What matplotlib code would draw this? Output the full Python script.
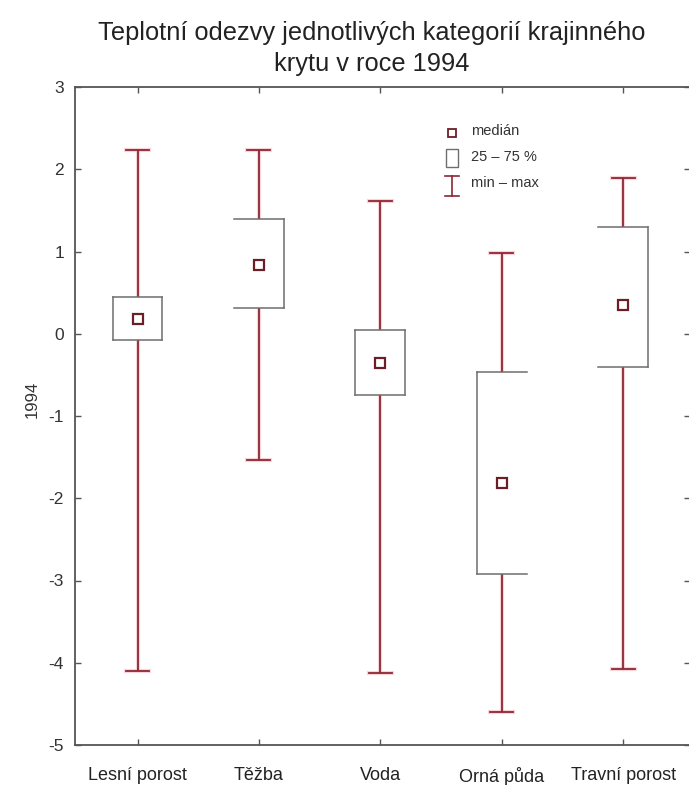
import matplotlib.pyplot as plt
from matplotlib.patches import Rectangle

plt.rcParams['font.family'] = ['Liberation Sans', 'DejaVu Sans']

# Data
categories = ['Lesní porost', 'Těžba', 'Voda', 'Orná půda', 'Travní porost']
mins = [-4.10, -1.54, -4.12, -4.60, -4.08]
q1 = [-0.08, 0.31, -0.75, -2.92, -0.41]
medians = [0.18, 0.84, -0.35, -1.81, 0.35]
q3 = [0.45, 1.39, 0.05, -0.47, 1.30]
maxs = [2.24, 2.24, 1.62, 0.98, 1.89]

# which vertical sides of each box survived in the original scan
box_sides = [('l', 'r'), ('r',), ('l', 'r'), ('l',), ('r',)]

whisker_col = '#8e2635'
box_col = '#6e6e6e'
axis_col = '#555555'

fig = plt.figure(figsize=(6.89, 7.85), dpi=100)
ax = fig.add_axes([75 / 689, 40 / 785, 615 / 689, 658 / 785])

bw = 0.41   # box width
cw = 0.19   # cap width

for i in range(len(categories)):
    # whisker with halo
    for lw, col, a in [(3.0, '#f2b8c0', 0.6), (1.3, whisker_col, 1.0)]:
        ax.plot([i, i], [mins[i], maxs[i]], color=col, lw=lw, alpha=a, zorder=2,
                solid_capstyle='butt')
        ax.plot([i - cw / 2, i + cw / 2], [mins[i], mins[i]], color=col, lw=lw, alpha=a, zorder=2)
        ax.plot([i - cw / 2, i + cw / 2], [maxs[i], maxs[i]], color=col, lw=lw, alpha=a, zorder=2)
    # box (white fill, grey outline)
    ax.add_patch(Rectangle((i - bw / 2, q1[i]), bw, q3[i] - q1[i], facecolor='white',
                           edgecolor='none', zorder=3))
    ax.plot([i - bw / 2, i + bw / 2], [q3[i], q3[i]], color=box_col, lw=1.1, zorder=4)
    ax.plot([i - bw / 2, i + bw / 2], [q1[i], q1[i]], color=box_col, lw=1.1, zorder=4)
    if 'l' in box_sides[i]:
        ax.plot([i - bw / 2, i - bw / 2], [q1[i], q3[i]], color=box_col, lw=1.1, zorder=4)
    if 'r' in box_sides[i]:
        ax.plot([i + bw / 2, i + bw / 2], [q1[i], q3[i]], color=box_col, lw=1.1, zorder=4)

# median markers
ax.plot(range(len(categories)), medians, linestyle='none', marker='s', markersize=7,
        markerfacecolor='white', markeredgecolor='#6b1e25', markeredgewidth=1.6, zorder=5)

ax.set_xlim(-0.515, 4.55)
ax.set_ylim(-5, 3)
ax.set_xticks(range(len(categories)))
ax.set_xticklabels(categories, fontsize=13, color='#222222')
ax.set_yticks(range(-5, 4))
ax.set_yticklabels([str(v) for v in range(-5, 4)], fontsize=12.5, color='#333333')
ax.tick_params(axis='both', direction='in', length=4, color=axis_col, width=1.0,
               top=True, right=True)
ax.tick_params(axis='x', pad=16)
ax.tick_params(axis='y', pad=8)
for s in ax.spines.values():
    s.set_color(axis_col)
    s.set_linewidth(1.3)

ax.set_ylabel('1994', fontsize=12, color='#333333')
ax.yaxis.set_label_coords(-0.058, 0.525)

fig.text(0.54, 0.958, 'Teplotní odezvy jednotlivých kategorií krajinného',
         ha='center', va='center', fontsize=18.3, color='#222222')
fig.text(0.54, 0.919, 'krytu v roce 1994', ha='center', va='center',
         fontsize=18.3, color='#222222')

# legend drawn by hand
lx = 2.59
ax.plot([lx], [2.44], marker='s', markersize=6, linestyle='none',
        markerfacecolor='white', markeredgecolor='#6b1e25', markeredgewidth=1.3, zorder=5)
ax.add_patch(Rectangle((lx - 0.05, 2.03), 0.10, 0.22, facecolor='white',
                       edgecolor=box_col, lw=1.0, zorder=5))
ax.plot([lx, lx], [1.68, 1.92], color=whisker_col, lw=1.2)
ax.plot([lx - 0.06, lx + 0.06], [1.68, 1.68], color=whisker_col, lw=1.2)
ax.plot([lx - 0.06, lx + 0.06], [1.92, 1.92], color=whisker_col, lw=1.2)
ax.text(lx + 0.16, 2.47, 'medián', fontsize=10.5, va='center', color='#333333')
ax.text(lx + 0.16, 2.15, '25 – 75 %', fontsize=10.5, va='center', color='#333333')
ax.text(lx + 0.16, 1.83, 'min – max', fontsize=10.5, va='center', color='#333333')

fig.savefig('out.png', dpi=100)
